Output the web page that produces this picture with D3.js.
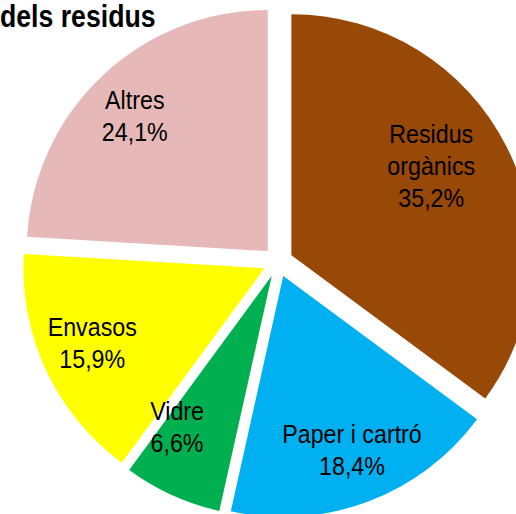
<!DOCTYPE html>
<html>
<head>
<meta charset="utf-8">
<script src="https://cdn.jsdelivr.net/npm/d3@7"></script>
<style>
  body { margin: 0; background: #fff; }
  svg { display: block; }
</style>
</head>
<body>
<svg id="pie_chart"></svg>
<script>
// data
let categories = ["Residus orgànics", "Paper i cartró", "Vidre", "Envasos", "Altres"];
let categoryLines = [["Residus", "orgànics"], ["Paper i cartró"], ["Vidre"], ["Envasos"], ["Altres"]];
let values = [35.2, 18.4, 6.6, 15.9, 24.1];
let colors = ["#984807", "#00B0F0", "#00B050", "#FFFF00", "#E6B9B8"];
let title = "dels residus";

// layout
let w = 516;
let h = 514;
let cx = 278, cy = 262;
let radius = 241;
let explode = 15;
let labelFrac = 0.78;
let labelShift = [[-28, -5], [3, -2], [-17, -20], [-2, -5], [-4, 2]];
let fontSize = 25, lineGap = 32, capH = 18, squeeze = 0.93;

let fmt = v => d3.format(".1f")(v).replace(".", ",") + "%";

function makePieChart() {
    let svg = d3.select('#pie_chart')
        .attr('width', w)
        .attr('height', h);

    // title, cut off at the left like the original
    svg.append('text')
        .attr('transform', `translate(0, 27) scale(0.86, 1)`)
        .attr('font-family', 'Liberation Sans, Arial, sans-serif')
        .attr('font-weight', 'bold')
        .attr('font-size', 31)
        .attr('fill', '#000')
        .text(title);

    let pie = d3.pie()
        .sort(null)
        .value(d => d);

    let arcs = pie(values);

    let arc = d3.arc()
        .innerRadius(0)
        .outerRadius(radius);

    let dir = a => {
        let m = (a.startAngle + a.endAngle) / 2;
        return [Math.sin(m), -Math.cos(m)];
    };

    let g = svg.append('g')
        .attr('transform', `translate(${cx}, ${cy})`);

    g.selectAll('path')
        .data(arcs)
        .enter()
        .append('path')
        .attr('transform', d => {
            let [dx, dy] = dir(d);
            return `translate(${dx * explode}, ${dy * explode})`;
        })
        .attr('fill', (d, i) => colors[i])
        .attr('d', arc);

    let labels = g.selectAll('g.label')
        .data(arcs)
        .enter()
        .append('g')
        .attr('class', 'label')
        .attr('transform', (d, i) => {
            let [dx, dy] = dir(d);
            let r = explode + labelFrac * radius;
            let x = dx * r + labelShift[i][0];
            let y = dy * r + labelShift[i][1];
            return `translate(${x}, ${y}) scale(${squeeze}, 1)`;
        });

    labels.each(function(d, i) {
        let lines = categoryLines[i].concat([fmt(values[i])]);
        let n = lines.length;
        let first = -((n - 1) * lineGap + capH) / 2 + capH;
        d3.select(this).selectAll('text')
            .data(lines)
            .enter()
            .append('text')
            .attr('x', 0)
            .attr('y', (t, j) => first + j * lineGap)
            .attr('text-anchor', 'middle')
            .attr('font-family', 'Liberation Sans, Arial, sans-serif')
            .attr('font-size', fontSize)
            .attr('fill', '#000')
            .text(t => t);
    });
}

window.onload = function() {
    makePieChart();
}
</script>
</body>
</html>
